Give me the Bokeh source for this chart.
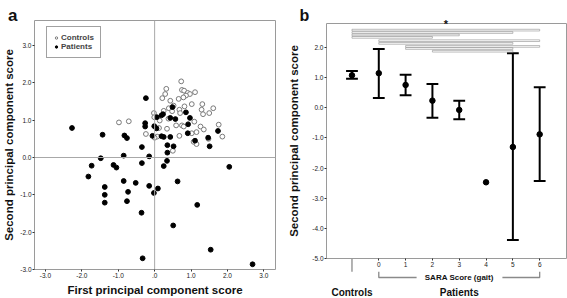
from bokeh.plotting import figure
from bokeh.layouts import row, column
from bokeh.models import Range1d, FixedTicker, Span
from bokeh.core.properties import value
from bokeh.embed import file_html
from bokeh.resources import INLINE

FONT = "Liberation Sans"

# ---------------- panel a data ----------------
ctrl_x = [0.73, 0.32, 0.75, 0.81, 1.11, 0.29, 0.91, 0.97, 0.86, 0.79, 0.21, 0.66, 0.43,
          1.02, 0.82, 1.31, 0.52, 0.39, 0.68, 1.29, 1.61, 0.48, 1.50, -0.02, 0.25, 0.70,
          1.33, -0.01, -0.98, -0.71, 0.14, 0.38, 0.59, 0.75, 0.80, 1.09, 1.26, 1.35, 1.76,
          0.34, 0.12, -0.24, 0.07, 1.02, 1.15, 0.68, 1.48, 1.86, 1.07, 1.15, 0.00, 0.50]
ctrl_y = [2.04, 1.84, 1.81, 1.79, 1.75, 1.70, 1.73, 1.70, 1.66, 1.61, 1.59, 1.57, 1.52,
          1.43, 1.37, 1.43, 1.39, 1.32, 1.28, 1.28, 1.32, 1.24, 1.19, 1.19, 1.25, 1.19,
          1.16, 1.08, 0.94, 0.97, 0.99, 1.04, 0.86, 0.86, 0.83, 0.96, 0.83, 0.75, 0.88,
          0.77, 0.79, 0.63, 0.56, 0.65, 0.68, 0.58, 0.50, 0.56, 0.42, 0.36, 0.53, 0.18]

pat_x = [-0.24, -2.27, -1.43, -0.83, -0.76, -0.26, -0.26, -0.01, 0.05, 0.06, 0.19, 0.23,
         0.49, 0.43, 0.57, 0.86, 0.97, 0.92, -0.06, 0.19, 0.25, 0.43, 0.91, 1.74, 1.47,
         1.11, 0.35, 0.52, -0.35, 1.51, -1.48, -0.85, -0.15, 0.35, -1.73, -1.13, -1.05,
         -0.35, 0.34, 0.25, -1.82, -0.85, -0.52, 0.63, -1.37, -0.15, -0.73, 0.09, -0.02,
         -1.37, -1.37, -0.76, 1.17, 2.05, -0.36, 0.51, 1.54, -0.33, 2.69]
pat_y = [1.59, 0.79, 0.61, 0.59, 0.52, 0.92, 0.83, 0.84, 0.78, 1.08, 1.13, 1.16,
         1.35, 1.06, 1.03, 1.21, 1.06, 0.89, 0.58, 0.57, 0.55, 0.55, 0.65, 0.71, 0.53,
         0.45, 0.33, 0.30, 0.28, 0.30, -0.02, 0.05, 0.03, 0.13, -0.22, -0.20, -0.27,
         -0.15, -0.09, -0.23, -0.51, -0.63, -0.68, -0.64, -0.79, -0.76, -0.92, -0.83, -0.95,
         -1.00, -1.21, -1.17, -1.27, -0.25, -1.48, -1.82, -2.47, -2.70, -2.86]

a_ticks = [-3, -2, -1, 0, 1, 2, 3]
a_xlabels = ["-3.0", "-2.0", "-1.0", ".0", "1.0", "2.0", "3.0"]
a_ylabels = ["-3.0", "-2.0", "-1.0", "0.0", "1.0", "2.0", "3.0"]

# ---------------- panel b data ----------------
groups = ["Controls", "0", "1", "2", "3", "4", "5", "6"]
group_pos = [-1, 0, 1, 2, 3, 4, 5, 6]
means = [1.08, 1.15, 0.76, 0.24, -0.07, -2.47, -1.30, -0.88]
upper = [1.22, 1.95, 1.10, 0.79, 0.24, None, 1.81, 0.68]
lower = [0.97, 0.33, 0.42, -0.33, -0.38, None, -4.39, -2.43]
sig_pairs = [(-1, 6), (-1, 5), (-1, 3), (-1, 2), (0, 6), (0, 5), (1, 6), (1, 5), (2, 5)]
sig_levels = [2.58, 2.50, 2.42, 2.34, 2.23, 2.14, 2.04, 1.97, 1.88]
b_yticks = [-5, -4, -3, -2, -1, 0, 1, 2]
b_ylabels = ["-5.0", "-4.0", "-3.0", "-2.0", "-1.0", "0.0", "1.0", "2.0"]


def style_axes(p):
    for ax in (p.xaxis[0], p.yaxis[0]):
        ax.axis_line_color = None
        ax.major_tick_line_color = "#333333"
        ax.major_tick_out = 2
        ax.major_tick_in = 0
        ax.minor_tick_line_color = None
        ax.major_label_text_font = FONT
        ax.major_label_text_font_size = "6.5px"
        ax.major_label_text_color = "#222222"
        ax.major_label_standoff = 1
        ax.axis_label_text_font = FONT
        ax.axis_label_text_font_size = "11.5px"
        ax.axis_label_text_font_style = "bold"
        ax.axis_label_text_color = "#111111"
    p.xgrid.visible = False
    p.ygrid.visible = False
    p.outline_line_color = "#9a9a9a"
    p.outline_line_width = 1


def outside_text(p, x, y, s, size, bold=True, align="center", baseline="middle"):
    p.text(x=[x], y=[y], text=[s], text_font=value(FONT), text_font_size=size,
           text_font_style="bold" if bold else "normal", text_align=align,
           text_baseline=baseline, text_color="#111111", level="overlay")


# ---------------- panel a ----------------
pa = figure(width=285, height=298, x_range=Range1d(-3.3, 3.32), y_range=Range1d(-3.0, 3.67),
            min_border_left=30, min_border_right=10, min_border_top=20, min_border_bottom=28,
            output_backend="svg", toolbar_location=None)
style_axes(pa)
pa.xaxis.ticker = FixedTicker(ticks=a_ticks)
pa.yaxis.ticker = FixedTicker(ticks=a_ticks)
pa.xaxis.major_label_overrides = {t: l for t, l in zip(a_ticks, a_xlabels)}
pa.yaxis.major_label_overrides = {t: l for t, l in zip(a_ticks, a_ylabels)}
pa.xaxis.axis_label = "First principal component score"
pa.yaxis.axis_label = "Second principal component score"
pa.xaxis.axis_label_standoff = 3
pa.yaxis.axis_label_standoff = 2

pa.add_layout(Span(location=0, dimension="height", line_color="#a8a8a8", line_width=1))
pa.add_layout(Span(location=0, dimension="width", line_color="#a8a8a8", line_width=1))

pa.scatter(ctrl_x, ctrl_y, size=4.8, marker="circle", fill_color="white", line_color="#7a7a7a",
           line_width=1, legend_label="Controls")
pa.scatter(pat_x, pat_y, size=4.8, marker="circle", fill_color="black", line_color="black",
           line_width=1, legend_label="Patients")

lg = pa.legend[0]
lg.location = (12, 211)
lg.margin = 0
lg.padding = 6
lg.spacing = 0
lg.label_standoff = 2
lg.glyph_width = 6
lg.glyph_height = 9
lg.label_height = 9
lg.label_text_font = FONT
lg.label_text_font_size = "8px"
lg.label_text_font_style = "bold"
lg.border_line_color = "#444444"
lg.border_line_width = 1
lg.background_fill_alpha = 1

outside_text(pa, -4.03, 3.80, "a", "17px", baseline="alphabetic", align="left")

# ---------------- panel b ----------------
pb = figure(width=282, height=298, x_range=Range1d(-1.95, 7.0), y_range=Range1d(-5.0, 2.8),
            min_border_left=39, min_border_right=1, min_border_top=23, min_border_bottom=40,
            output_backend="svg", toolbar_location=None)
style_axes(pb)
pb.xaxis.ticker = FixedTicker(ticks=group_pos[1:])
pb.xaxis.major_label_overrides = {p: g for p, g in zip(group_pos[1:], groups[1:])}
pb.yaxis.ticker = FixedTicker(ticks=b_yticks)
pb.yaxis.major_label_overrides = {t: l for t, l in zip(b_yticks, b_ylabels)}
pb.yaxis.axis_label = "Second principal component score"
pb.yaxis.axis_label_standoff = 9

ex, lo, hi = [], [], []
for xp, l, u in zip(group_pos, lower, upper):
    if l is not None:
        ex.append(xp); lo.append(l); hi.append(u)
cap = 0.22
pb.segment(ex, lo, ex, hi, line_color="black", line_width=2)
pb.segment([x - cap for x in ex], hi, [x + cap for x in ex], hi, line_color="black", line_width=2)
pb.segment([x - cap for x in ex], lo, [x + cap for x in ex], lo, line_color="black", line_width=2)
pb.scatter(group_pos, means, size=5.5, marker="circle", color="black")

h = 0.028
pb.quad(left=[a for a, b in sig_pairs], right=[b for a, b in sig_pairs],
        top=[v + h for v in sig_levels], bottom=[v - h for v in sig_levels],
        fill_color=None, line_color="#8f8f8f", line_width=0.6)
outside_text(pb, 2.5, 2.59, "*", "11px", bold=True, baseline="bottom")

# below-frame marks
pb.segment([group_pos[0]], [-5.0], [group_pos[0]], [-5.44], line_color="#9a9a9a",
           line_width=1.5, level="overlay")
pb.line([0, 0, 1.41], [-5.44, -5.63, -5.63], line_color="#8a8a8a", line_width=1.3, level="overlay")
pb.line([4.61, 6, 6], [-5.63, -5.63, -5.44], line_color="#8a8a8a", line_width=1.3, level="overlay")
outside_text(pb, 3, -5.62, "SARA Score (gait)", "8px")
outside_text(pb, -1, -6.12, "Controls", "10px")
outside_text(pb, 3, -6.12, "Patients", "10px")
outside_text(pb, -2.96, 3.07, "b", "16px", baseline="alphabetic", align="left")

layout = row(column(pa), column(pb))
open("out.html", "w").write(file_html(layout, INLINE))
